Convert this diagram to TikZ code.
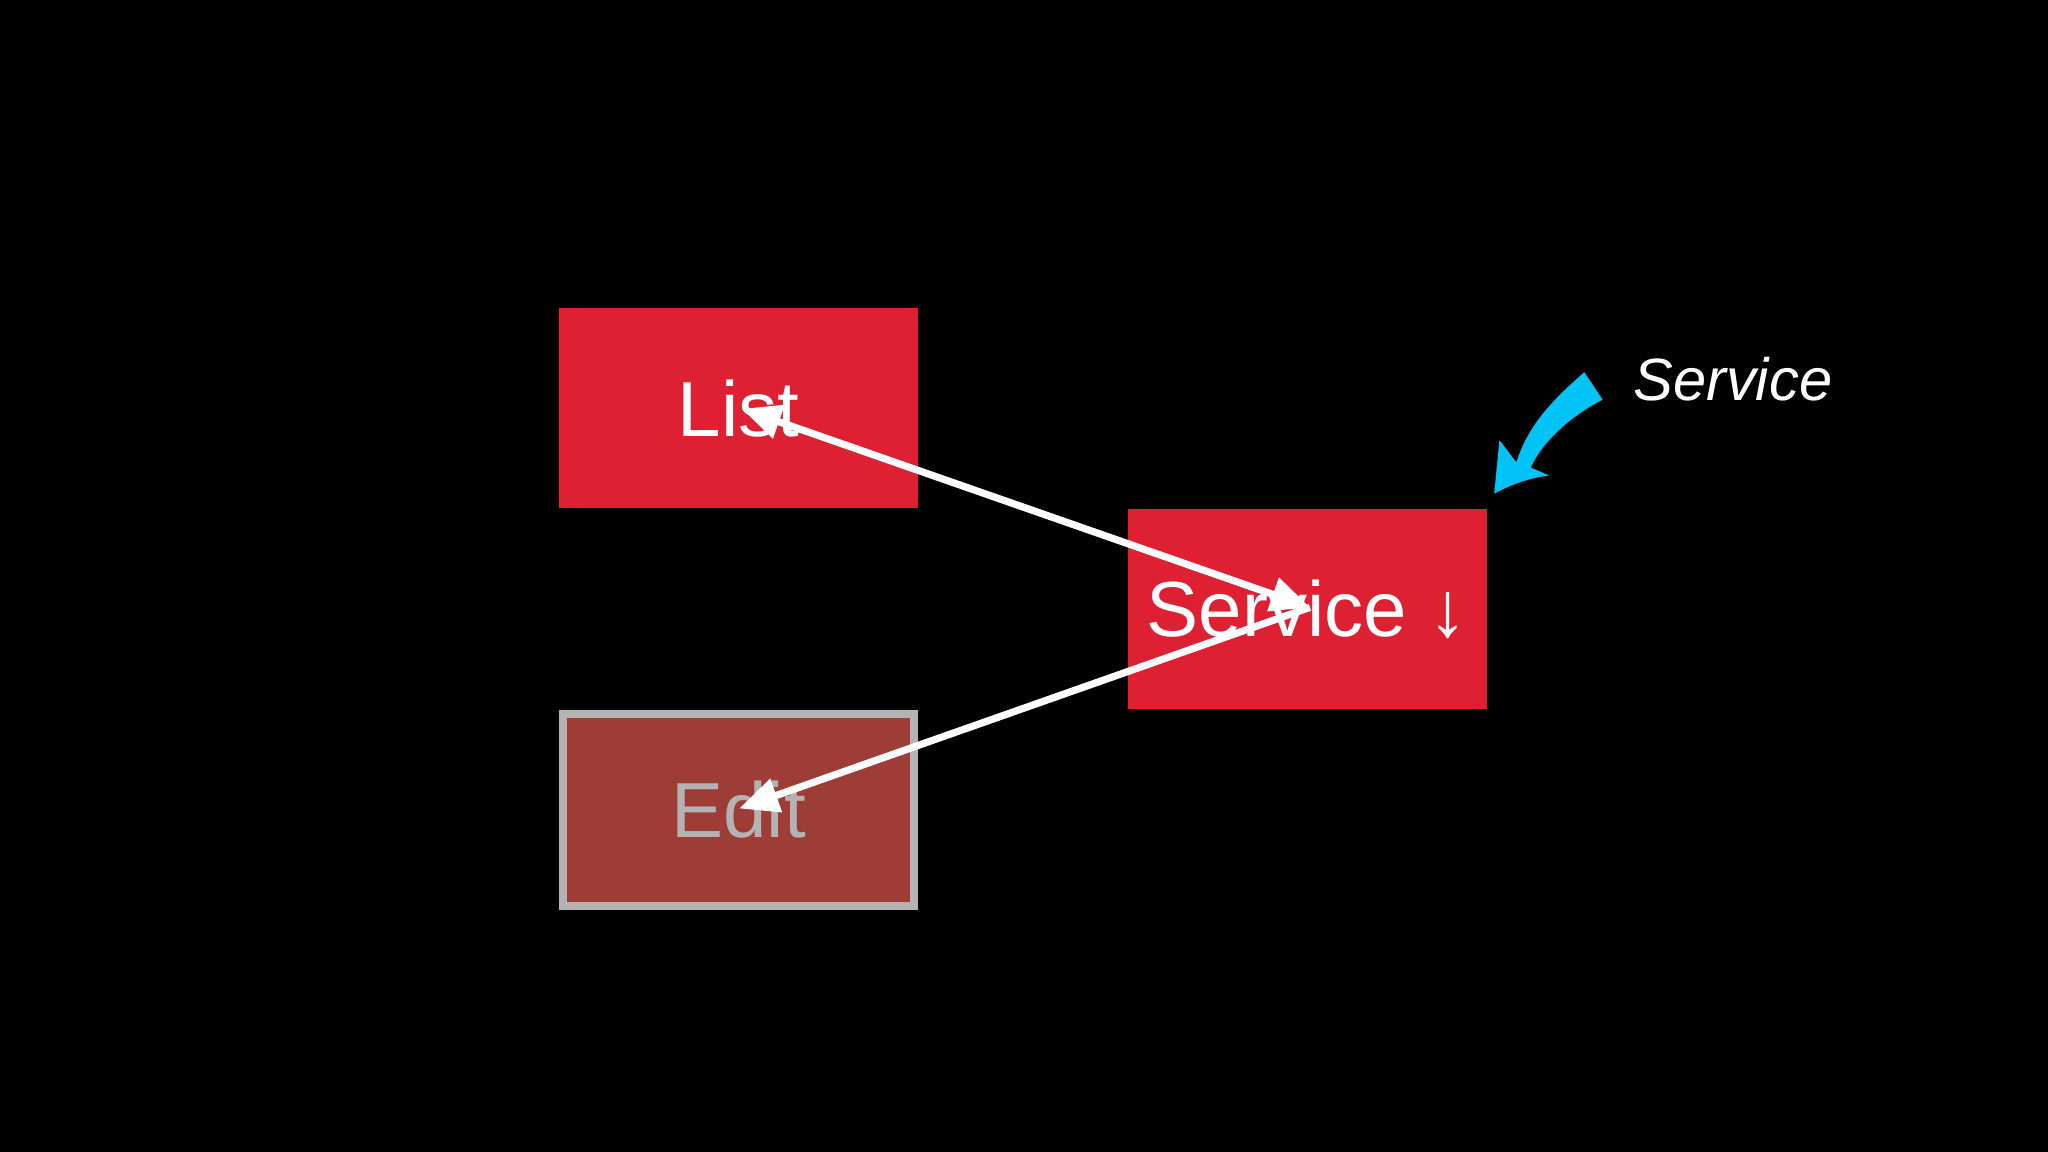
\documentclass[tikz,border=0pt]{standalone}
\usepackage{fontspec}
\setmainfont{Liberation Sans}
\usetikzlibrary{arrows.meta}
\definecolor{boxred}{HTML}{DE2033}
\definecolor{editred}{HTML}{9E3D36}
\definecolor{editgray}{HTML}{B3B3B3}
\definecolor{skyblue}{HTML}{00C3F5}
\tikzset{
  redbox/.style={fill=boxred, draw=none, minimum width=2.75cm, minimum height=1.53cm, inner sep=0pt, text=white, font=\fontsize{17}{17}\selectfont},
  editbox/.style={fill=editred, draw=editgray, line width=0.06cm, minimum width=2.69cm, minimum height=1.47cm, inner sep=0pt, text=editgray, font=\fontsize{17}{17}\selectfont},
  link/.style={draw=white, line width=0.055cm, -{Triangle[length=0.3cm,width=0.26cm]}},
}
\begin{document}
\begin{tikzpicture}[x=0.01cm,y=-0.01cm]
\fill[black] (0,0) rectangle (1568,882);
\node[redbox] (list) at (565.5,312.5) {List};
\node[redbox] (service) at (1001,466.5) {Service \raisebox{0pt}{\textbf{↓}}};
\node[editbox] (edit) at (565.5,620) {Edit};
\coordinate (lp) at (568,313);
\coordinate (sp) at (1003,465);
\coordinate (ep) at (566,619);
\draw[link, {Triangle[length=0.3cm,width=0.26cm]}-{Triangle[length=0.3cm,width=0.26cm]}] (lp) -- (sp);
\draw[link] (sp) -- (ep);
\node[text=white, font=\fontsize{13}{13}\selectfont\itshape, anchor=west] (lbl) at (1238,290) {Service};
\fill[skyblue] (1144,378) -- (1148,337) -- (1161,354)
  .. controls (1170,325) and (1190,305) .. (1213,285)
  -- (1227,306)
  .. controls (1200,320) and (1180,340) .. (1172,358)
  -- (1186,364) .. controls (1170,366) and (1155,372) .. (1144,378) -- cycle;
\end{tikzpicture}
\end{document}
